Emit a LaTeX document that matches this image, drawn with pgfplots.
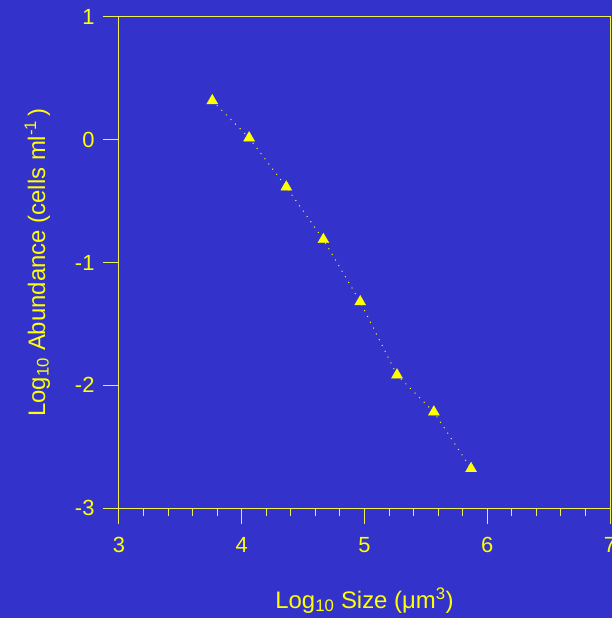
\documentclass[border=0pt]{standalone}
\usepackage{fontspec}
\setmainfont{Liberation Sans}
\usepackage{pgfplots}
\pgfplotsset{compat=1.18}
\usetikzlibrary{backgrounds}
\definecolor{bgblue}{RGB}{51,51,204}
\definecolor{ylw}{RGB}{255,255,0}
\definecolor{axln}{RGB}{240,240,80}
\begin{document}
\begin{tikzpicture}
\begin{axis}[name=ax, at={(0,0)}, anchor=south west,
    scale only axis, width=491bp, height=491bp,
    xmin=3, xmax=7, ymin=-3, ymax=1,
    xtick={3,4,5,6,7}, ytick={-3,-2,-1,0,1}, minor x tick num=4,
    tick align=outside, tick pos=left,
    major tick length=16bp, minor tick length=8bp,
    axis line style={draw=axln, line width=1bp},
    every tick/.style={draw=axln, line width=1bp},
    /pgf/number format/assume math mode=true,
    tick label style={font=\fontsize{22}{22}\selectfont, text=ylw},
    xticklabel style={yshift=-10bp},
    yticklabel style={xshift=-5bp},
    every axis x label/.style={at={(axis description cs:0.5,-0.2037)}, anchor=base,
        font=\fontsize{24}{24}\selectfont, text=ylw},
    every axis y label/.style={at={(axis description cs:-0.1507,0.5)}, rotate=90, anchor=base,
        font=\fontsize{24}{24}\selectfont, text=ylw},
    xlabel={Log\textsubscript{10} Size (μm\textsuperscript{3})},
    ylabel={Log\textsubscript{10} Abundance (cells ml\textsuperscript{-1}\,)},
  ]
\addplot[ylw, line width=1bp, dash pattern=on 1bp off 5.5bp,
    mark=triangle*, mark size=6.4bp,
    mark options={solid, fill=ylw, draw=ylw, line width=0.3bp}]
  coordinates {(3.76,0.318) (4.06,0.015) (4.363,-0.385) (4.665,-0.813)
               (4.965,-1.32) (5.265,-1.916) (5.565,-2.218) (5.868,-2.679)};
\end{axis}
\begin{scope}[on background layer]
\fill[bgblue] (-119bp,-110bp) rectangle (493bp,508bp);
\end{scope}
\pgfresetboundingbox
\path[use as bounding box] (-119bp,-110bp) rectangle (493bp,508bp);
\end{tikzpicture}
\end{document}
